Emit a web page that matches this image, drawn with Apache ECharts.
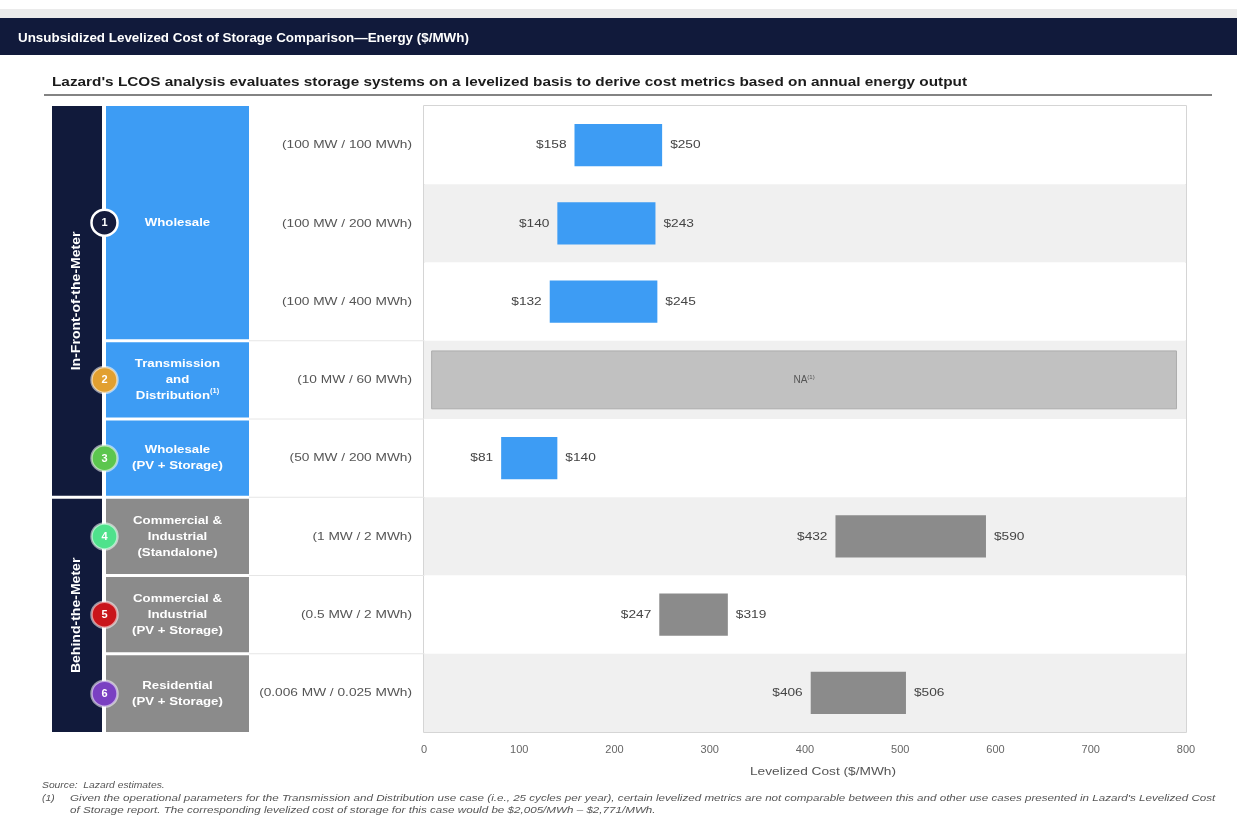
<!DOCTYPE html>
<html>
<head>
<meta charset="utf-8">
<title>Unsubsidized Levelized Cost of Storage Comparison—Energy ($/MWh)</title>
<script src="https://cdn.jsdelivr.net/npm/echarts@6/dist/echarts.min.js"></script>
<style>
  html, body { margin: 0; padding: 0; background: #ffffff; }
  #chart { width: 1237px; height: 832px; }
</style>
</head>
<body>
<div id="chart"></div>
<script>
// ---- data ----
const titleText = 'Unsubsidized Levelized Cost of Storage Comparison\u2014Energy ($/MWh)';
const subtitleText = "Lazard's LCOS analysis evaluates storage systems on a levelized basis to derive cost metrics based on annual energy output";

const sizeLabels = [
  '(100 MW / 100 MWh)',
  '(100 MW / 200 MWh)',
  '(100 MW / 400 MWh)',
  '(10 MW / 60 MWh)',
  '(50 MW / 200 MWh)',
  '(1 MW / 2 MWh)',
  '(0.5 MW / 2 MWh)',
  '(0.006 MW / 0.025 MWh)'
];
const lowCost  = [158, 140, 132, null, 81, 432, 247, 406];
const highCost = [250, 243, 245, null, 140, 590, 319, 506];
const meterSide = ['front', 'front', 'front', 'front', 'front', 'behind', 'behind', 'behind'];

// the T&D case has no comparable figure: shown as a full-width "NA" band
const naRow = 3;
const naSpan = [8, 790];

const groupNames = ['In-Front-of-the-Meter', 'Behind-the-Meter'];
const groupFirstRow = [0, 5];
const groupLastRow = [4, 7];

const caseNames = [
  'Wholesale',
  'Transmission\nand\nDistribution{sup|(1)}',
  'Wholesale\n(PV + Storage)',
  'Commercial &\nIndustrial\n(Standalone)',
  'Commercial &\nIndustrial\n(PV + Storage)',
  'Residential\n(PV + Storage)'
];
const caseFirstRow = [0, 3, 4, 5, 6, 7];
const caseLastRow  = [2, 3, 4, 5, 6, 7];

const xTicks = { min: 0, max: 800, step: 100 };
const xAxisTitle = 'Levelized Cost ($/MWh)';

const sourceNote = 'Source:  Lazard estimates.';
const footnoteMark = '(1)';
const footnoteLines = [
  "Given the operational parameters for the Transmission and Distribution use case (i.e., 25 cycles per year), certain levelized metrics are not comparable between this and other use cases presented in Lazard's Levelized Cost",
  'of Storage report. The corresponding levelized cost of storage for this case would be $2,005/MWh \u2013 $2,771/MWh.'
];

// ---- styles ----
const FONT = '"Liberation Sans", Arial, Helvetica, sans-serif';
const NAVY = '#111a3b';
const BLUE = '#3d9cf4';
const GREY = '#8b8b8b';
const WIDE = 1.19;            // horizontal stretch of the label type
const circleFill = ['#141b3c', '#e2a030', '#5cc64e', '#4fe28c', '#c9151b', '#7a40c2'];
const sideColor = { front: BLUE, behind: GREY };

const chart = echarts.init(document.getElementById('chart'), null, { renderer: 'canvas' });

const rangeData = [];
lowCost.forEach((lo, i) => {
  if (lo !== null && highCost[i] !== null) rangeData.push([lo, highCost[i], i]);
});

function renderRange(params, api) {
  const lo = api.value(0), hi = api.value(1), row = api.value(2);
  const a = api.coord([lo, row]);
  const b = api.coord([hi, row]);
  const band = api.size([0, 1])[1];
  const h = band * 0.54;
  const labelStyle = { fill: '#444', font: '11.5px ' + FONT, verticalAlign: 'middle' };
  return {
    type: 'group',
    children: [
      { type: 'rect', shape: { x: a[0], y: a[1] - h / 2, width: b[0] - a[0], height: h },
        style: { fill: sideColor[meterSide[row]] } },
      { type: 'text', x: a[0] - 8, y: a[1], scaleX: WIDE,
        style: Object.assign({ text: '$' + lo, align: 'right' }, labelStyle) },
      { type: 'text', x: b[0] + 8, y: b[1], scaleX: WIDE,
        style: Object.assign({ text: '$' + hi, align: 'left' }, labelStyle) }
    ]
  };
}

function renderNA(params, api) {
  const a = api.coord([api.value(0), api.value(2)]);
  const b = api.coord([api.value(1), api.value(2)]);
  const band = api.size([0, 1])[1];
  const h = band * 0.74;
  return {
    type: 'group',
    children: [
      { type: 'rect', shape: { x: a[0], y: a[1] - h / 2, width: b[0] - a[0], height: h },
        style: { fill: '#c1c1c1', stroke: '#adadad', lineWidth: 1 } },
      { type: 'text', x: (a[0] + b[0]) / 2, y: a[1],
        style: { text: 'NA{sup|(1)}', align: 'center', verticalAlign: 'middle',
          fill: '#555', font: '10px ' + FONT,
          rich: { sup: { fontSize: 6, fill: '#555', verticalAlign: 'top', padding: [0, 0, 6, 0] } } } }
    ]
  };
}

const option = {
  backgroundColor: '#ffffff',
  animation: false,
  textStyle: { fontFamily: FONT },
  grid: { left: 424, right: 51, top: 106, bottom: 100, show: true,
    borderColor: '#c8c8c8', borderWidth: 1.5, backgroundColor: 'transparent' },
  xAxis: {
    type: 'value', min: xTicks.min, max: xTicks.max, interval: xTicks.step,
    axisLine: { show: false }, axisTick: { show: false }, splitLine: { show: false },
    axisLabel: { color: '#666', fontSize: 11, margin: 12, fontFamily: FONT }
  },
  yAxis: {
    type: 'category', data: sizeLabels, inverse: true,
    axisLine: { show: false }, axisTick: { show: false }, splitLine: { show: false },
    splitArea: { show: true, areaStyle: { color: ['#ffffff', '#f0f0f0'] } },
    axisLabel: { show: false }
  },
  series: [
    { type: 'custom', name: 'LCOS range', renderItem: renderRange,
      encode: { x: [0, 1], y: 2 }, data: rangeData, z: 3 },
    { type: 'custom', name: 'NA', renderItem: renderNA,
      encode: { x: [0, 1], y: 2 }, data: [[naSpan[0], naSpan[1], naRow]], z: 2 }
  ]
};

chart.setOption(option);

// ---- header, panels, row captions and notes placed against the grid ----
function rowCenter(i) { return chart.convertToPixel({ yAxisIndex: 0 }, i); }
const bandH = Math.abs(rowCenter(1) - rowCenter(0));
function rowTop(i) { return rowCenter(i) - bandH / 2; }
function rowBottom(i) { return rowCenter(i) + bandH / 2; }
const plotLeft = chart.convertToPixel({ xAxisIndex: 0 }, xTicks.min);
const plotRight = chart.convertToPixel({ xAxisIndex: 0 }, xTicks.max);

const gfx = [];
function text(x, y, str, font, extra, sx) {
  gfx.push({ type: 'text', x: x, y: y, scaleX: sx || 1, silent: true,
    style: Object.assign({ text: str, font: font, verticalAlign: 'middle' }, extra) });
}

// header strip
gfx.push({ type: 'rect', shape: { x: 0, y: 9, width: 1237, height: 9 }, style: { fill: '#ebebeb' }, silent: true });
gfx.push({ type: 'rect', shape: { x: 0, y: 18, width: 1237, height: 37 }, style: { fill: NAVY }, silent: true });
text(18, 38, titleText, 'bold 13px ' + FONT, { fill: '#ffffff' }, 1.03);

// subtitle with rule
text(52, 82, subtitleText, 'bold 13px ' + FONT, { fill: '#1b1b1b' }, 1.18);
gfx.push({ type: 'line', shape: { x1: 44, y1: 95, x2: 1212, y2: 95 },
  style: { stroke: '#5a5a5a', lineWidth: 1.5 }, silent: true });

// row captions (system size)
sizeLabels.forEach((s, i) => {
  text(plotLeft - 12, rowCenter(i), s, '11.5px ' + FONT, { fill: '#555', align: 'right' }, WIDE);
});

// axis title
text((plotLeft + plotRight) / 2 + 18, 772, xAxisTitle, '11.5px ' + FONT, { fill: '#555', align: 'center' }, WIDE);

// meter-side group bars
groupNames.forEach((name, g) => {
  const y0 = rowTop(groupFirstRow[g]) + (g > 0 ? 1.5 : 0);
  const y1 = rowBottom(groupLastRow[g]) - (g < groupNames.length - 1 ? 1.5 : 0);
  gfx.push({ type: 'rect', shape: { x: 52, y: y0, width: 50, height: y1 - y0 },
    style: { fill: NAVY }, silent: true });
  gfx.push({ type: 'text', x: 77, y: (y0 + y1) / 2, rotation: Math.PI / 2, scaleX: 1.17,
    style: { text: name, fill: '#ffffff', font: 'bold 12px ' + FONT,
      align: 'center', verticalAlign: 'middle' }, silent: true });
});

// use-case boxes, separators and numbered badges
caseNames.forEach((name, c) => {
  const first = caseFirstRow[c], last = caseLastRow[c];
  const y0 = rowTop(first) + (first > 0 ? 1.5 : 0);
  const y1 = rowBottom(last) - (last < sizeLabels.length - 1 ? 1.5 : 0);
  const fill = sideColor[meterSide[first]];
  const cy = (y0 + y1) / 2;
  gfx.push({ type: 'rect', shape: { x: 106, y: y0, width: 143, height: y1 - y0 },
    style: { fill: fill }, silent: true });
  gfx.push({ type: 'text', x: 177.5, y: cy, scaleX: 1.15,
    style: { text: name, fill: '#ffffff', font: 'bold 11.5px ' + FONT,
      align: 'center', verticalAlign: 'middle', lineHeight: 16,
      rich: { sup: { fontSize: 6.5, fontWeight: 'bold', fill: '#ffffff', verticalAlign: 'top', lineHeight: 16 } } },
    silent: true });
  if (first > 0) {
    gfx.push({ type: 'line', shape: { x1: 249, y1: rowTop(first), x2: plotLeft, y2: rowTop(first) },
      style: { stroke: '#e6e6e6', lineWidth: 1 }, silent: true });
  }
  gfx.push({ type: 'circle', shape: { cx: 104.5, cy: cy, r: 13 },
    style: { fill: circleFill[c], stroke: c === 0 ? '#ffffff' : 'rgba(255,255,255,0.55)', lineWidth: 2.5 },
    z: 10, silent: true });
  gfx.push({ type: 'text', x: 104.5, y: cy + 0.5, z: 11,
    style: { text: String(c + 1), fill: '#ffffff', font: 'bold 11px ' + FONT,
      align: 'center', verticalAlign: 'middle' }, silent: true });
});

// notes
const noteFont = 'italic 8.6px ' + FONT;
text(42, 786, sourceNote, noteFont, { fill: '#555' }, 1.2);
text(42, 799, footnoteMark, noteFont, { fill: '#555' }, 1.2);
footnoteLines.forEach((line, i) => {
  text(70, 799 + i * 12, line, noteFont, { fill: '#555' }, 1.353);
});

chart.setOption({ graphic: { elements: gfx } });
</script>
</body>
</html>
